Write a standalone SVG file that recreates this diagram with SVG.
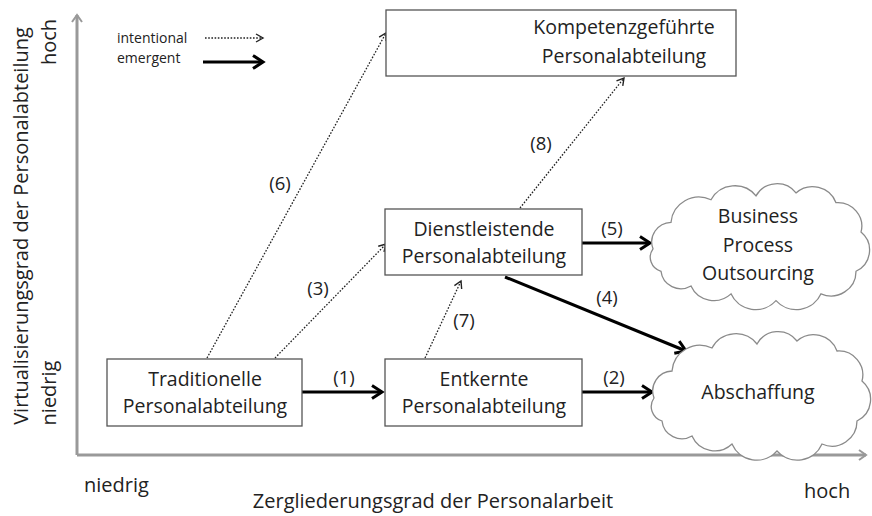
<svg xmlns="http://www.w3.org/2000/svg" width="872" height="516" viewBox="0 0 872 516">
<defs>
<style>
text{font-family:"Open Sans","Liberation Sans",sans-serif;fill:#222}
.n{font-size:19.5px;text-anchor:middle}
.lb{font-size:18.5px;text-anchor:middle}
.ax{font-size:20px}
.box{fill:#fff;stroke:#555;stroke-width:1.3}
.cloud{fill:#fff;stroke:#8a8a8a;stroke-width:1.3}
.solid{stroke:#000;stroke-width:3;fill:none;marker-end:url(#ah)}
.dot{stroke:#222;stroke-width:1.3;stroke-dasharray:1.6 1.6;fill:none;marker-end:url(#ahs)}
.axis{stroke:#999;stroke-width:3;fill:none}
</style>
<marker id="ah" markerWidth="8" markerHeight="8" refX="6" refY="4" orient="auto" markerUnits="userSpaceOnUse" viewBox="0 0 8 8" overflow="visible">
<path d="M-4,-2.5 L6,4 L-4,10.5" fill="none" stroke="#000" stroke-width="3"/>
</marker>
<marker id="ahs" markerWidth="8" markerHeight="8" refX="6" refY="4" orient="auto" markerUnits="userSpaceOnUse" viewBox="0 0 8 8" overflow="visible">
<path d="M-1,0 L6,4 L-1,8" fill="none" stroke="#222" stroke-width="1.4"/>
</marker>
<marker id="ax" markerWidth="8" markerHeight="8" refX="6" refY="4" orient="auto" markerUnits="userSpaceOnUse" viewBox="0 0 8 8" overflow="visible">
<path d="M-1,-1 L6,4 L-1,9" fill="none" stroke="#999" stroke-width="2"/>
</marker>
<path id="cl" d="M2,62 A20,20 0 0 1 20,35 A28,28 0 0 1 60,12 A27,27 0 0 1 105,8 A24,24 0 0 1 145,5 A25,25 0 0 1 185,15 A24,24 0 0 1 210,45 A24,24 0 0 1 205,85 A25,25 0 0 1 170,108 A27,27 0 0 1 125,115 A27,27 0 0 1 80,108 A25,25 0 0 1 40,100 A20,20 0 0 1 10,85 A15,15 0 0 1 2,62 Z"/>
</defs>
<rect width="872" height="516" fill="#fff"/>

<g id="axes">
<path class="axis" d="M77,455 L77,15" marker-end="url(#ax)"/>
<path class="axis" d="M77,455 L866,455" marker-end="url(#ax)"/>
<text class="ax" transform="translate(28,226) rotate(-90)" text-anchor="middle">Virtualisierungsgrad der Personalabteilung</text>
<text class="ax" transform="translate(56,42) rotate(-90)" text-anchor="middle">hoch</text>
<text class="ax" transform="translate(56,393) rotate(-90)" text-anchor="middle">niedrig</text>
<text class="ax" x="84" y="492">niedrig</text>
<text class="ax" x="804" y="498">hoch</text>
<text class="ax" x="433" y="508" text-anchor="middle">Zergliederungsgrad der Personalarbeit</text>
</g>

<g id="legend">
<text x="117" y="43" style="font-size:14px">intentional</text>
<text x="117" y="63" style="font-size:14px">emergent</text>
<path class="dot" d="M205,38 L263,38"/>
<path class="solid" d="M203,62 L263,62"/>
</g>

<g id="connectors">
<path class="solid" d="M302,392 L382,392"/>
<path class="solid" d="M582,392 L652,392"/>
<path class="solid" d="M582,243 L650,243"/>
<path class="solid" d="M505,277 L686,351"/>
<path class="dot" d="M275,358 L386,244"/>
<path class="dot" d="M207,358 L386,33"/>
<path class="dot" d="M425,358 L461,281"/>
<path class="dot" d="M520,208 L624,78"/>
<text class="lb" x="280" y="190">(6)</text>
<text class="lb" x="318" y="295">(3)</text>
<text class="lb" x="344" y="384">(1)</text>
<text class="lb" x="464" y="327">(7)</text>
<text class="lb" x="541" y="150">(8)</text>
<text class="lb" x="612" y="235">(5)</text>
<text class="lb" x="607" y="304">(4)</text>
<text class="lb" x="614" y="384">(2)</text>
</g>

<g id="kompetenz">
<rect class="box" x="386" y="10" width="350" height="66"/>
<text class="n" x="624" y="34">Kompetenzgeführte</text>
<text class="n" x="624" y="63">Personalabteilung</text>
</g>
<g id="dienstleistend">
<rect class="box" x="385" y="209" width="197" height="66"/>
<text class="n" x="484" y="236">Dienstleistende</text>
<text class="n" x="484" y="263">Personalabteilung</text>
</g>
<g id="entkernt">
<rect class="box" x="385" y="359" width="197" height="67"/>
<text class="n" x="484" y="386">Entkernte</text>
<text class="n" x="484" y="413">Personalabteilung</text>
</g>
<g id="traditionell">
<rect class="box" x="107" y="359" width="195" height="67"/>
<text class="n" x="205" y="386">Traditionelle</text>
<text class="n" x="205" y="413">Personalabteilung</text>
</g>
<g id="bpo">
<use href="#cl" class="cloud" transform="translate(651,188) scale(1,0.98)"/>
<text class="n" x="758" y="223">Business</text>
<text class="n" x="758" y="252">Process</text>
<text class="n" x="758" y="280">Outsourcing</text>
</g>
<g id="abschaffung">
<use href="#cl" class="cloud" transform="translate(652,336) scale(1,1.0)"/>
<text class="n" x="758" y="399">Abschaffung</text>
</g>
</svg>
